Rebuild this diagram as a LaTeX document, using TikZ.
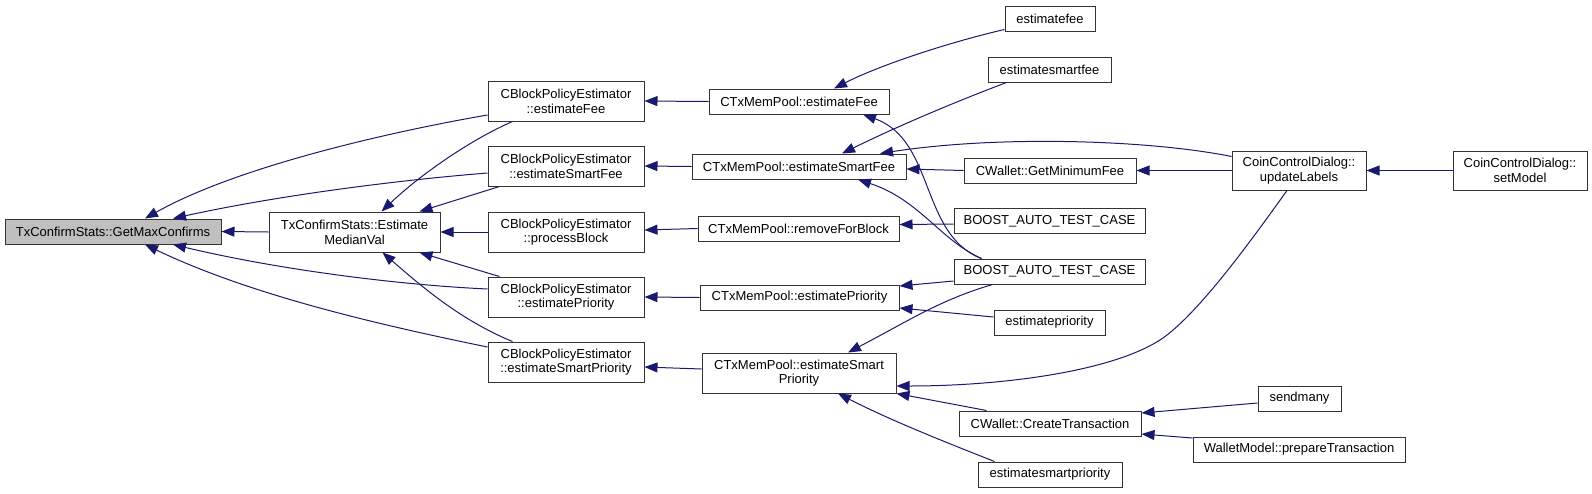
\documentclass[tikz,border=0pt]{standalone}
\usepackage{fontspec}
\setmainfont{Liberation Sans}
\usetikzlibrary{arrows.meta}
\definecolor{edgecol}{HTML}{191970}
\definecolor{boxgray}{HTML}{BFBFBF}
\begin{document}
\begin{tikzpicture}[x=1pt,y=-1pt,
  box/.style={draw=black!80, line width=1pt, fill=white, inner sep=0pt, align=center,
    font=\fontsize{13}{14.7}\selectfont, text=black},
  edge/.style={draw=edgecol, line width=1pt, -{Triangle[length=13pt,width=10pt]}}]
\useasboundingbox (0,0) rectangle (1592,493);
% nodes
\node[box, fill=boxgray, minimum width=216pt, minimum height=25pt] (gmc) at (113,231.5) {TxConfirmStats::GetMaxConfirms};
\node[box, minimum width=171pt, minimum height=40pt] (emv) at (354.5,232) {TxConfirmStats::Estimate\\MedianVal};
\node[box, minimum width=156pt, minimum height=40pt] (cef) at (566,101) {CBlockPolicyEstimator\\::estimateFee};
\node[box, minimum width=156pt, minimum height=40pt] (csf) at (566,166) {CBlockPolicyEstimator\\::estimateSmartFee};
\node[box, minimum width=156pt, minimum height=40pt] (cpb) at (566,232) {CBlockPolicyEstimator\\::processBlock};
\node[box, minimum width=156pt, minimum height=40pt] (cep) at (566,297) {CBlockPolicyEstimator\\::estimatePriority};
\node[box, minimum width=156pt, minimum height=40pt] (csp) at (566,362) {CBlockPolicyEstimator\\::estimateSmartPriority};
\node[box, minimum width=180pt, minimum height=25pt] (mef) at (799,101.5) {CTxMemPool::estimateFee};
\node[box, minimum width=214pt, minimum height=25pt] (msf) at (799,166.5) {CTxMemPool::estimateSmartFee};
\node[box, minimum width=201pt, minimum height=25pt] (mrb) at (798.5,228.5) {CTxMemPool::removeForBlock};
\node[box, minimum width=199pt, minimum height=25pt] (mep) at (799.5,297.5) {CTxMemPool::estimatePriority};
\node[box, minimum width=194pt, minimum height=40pt] (msp) at (799,373) {CTxMemPool::estimateSmart\\Priority};
\node[box, minimum width=90pt, minimum height=25pt] (efee) at (1050,18.5) {estimatefee};
\node[box, minimum width=123pt, minimum height=25pt] (esf) at (1049.5,69.5) {estimatesmartfee};
\node[box, minimum width=172pt, minimum height=25pt] (gmf) at (1050,170.5) {CWallet::GetMinimumFee};
\node[box, minimum width=191pt, minimum height=25pt] (bt1) at (1049.5,221) {BOOST\_AUTO\_TEST\_CASE};
\node[box, minimum width=191pt, minimum height=25pt] (bt2) at (1049.5,271.5) {BOOST\_AUTO\_TEST\_CASE};
\node[box, minimum width=111pt, minimum height=25pt] (epr) at (1049.5,322.5) {estimatepriority};
\node[box, minimum width=182pt, minimum height=25pt] (ctx) at (1050,423.5) {CWallet::CreateTransaction};
\node[box, minimum width=144pt, minimum height=25pt] (esp) at (1050,474.5) {estimatesmartpriority};
\node[box, minimum width=134pt, minimum height=39pt] (cul) at (1299,170.5) {CoinControlDialog::\\updateLabels};
\node[box, minimum width=134pt, minimum height=39pt] (csm) at (1520,170.5) {CoinControlDialog::\\setModel};
\node[box, minimum width=83pt, minimum height=25pt] (smy) at (1299.5,398.5) {sendmany};
\node[box, minimum width=212pt, minimum height=25pt] (wmp) at (1299,449.5) {WalletModel::prepareTransaction};
% edges into GetMaxConfirms
\draw[edge] (emv.west) -- (gmc.east);
\draw[edge] ([yshift=-14pt]cef.west) .. controls (400,130) and (240,165) .. ([xshift=32pt]gmc.north);
\draw[edge] ([yshift=-7pt]csf.west) .. controls (400,180) and (280,195) .. ([xshift=60pt]gmc.north);
\draw[edge] ([yshift=8pt]cep.west) .. controls (400,285) and (280,270) .. ([xshift=60pt]gmc.south);
\draw[edge] ([yshift=15pt]csp.west) .. controls (380,325) and (250,295) .. ([xshift=32pt]gmc.south);
% edges into EstimateMedianVal
\draw[edge] ([xshift=25pt]cef.south west) .. controls (470,140) and (420,175) .. ([xshift=27pt]emv.north);
\draw[edge] ([xshift=12pt]csf.south west) -- ([xshift=65pt]emv.north);
\draw[edge] (cpb.west) -- (emv.east);
\draw[edge] ([xshift=12pt]cep.north west) -- ([xshift=65pt]emv.south);
\draw[edge] ([xshift=25pt]csp.north west) .. controls (460,320) and (420,285) .. ([xshift=28pt]emv.south);
% CBlockPolicyEstimator callers
\draw[edge] (mef.west) -- (cef.east);
\draw[edge] (msf.west) -- (csf.east);
\draw[edge] (mrb.west) -- ([yshift=2pt]cpb.east);
\draw[edge] (mep.west) -- (cep.east);
\draw[edge] ([yshift=4pt]msp.west) -- ([yshift=-5pt]csp.east);
% CTxMemPool::estimateFee callers
\draw[edge] ([yshift=2pt]efee.south west) .. controls (950,42) and (880,65) .. ([xshift=35pt]mef.north);
\draw[edge] ([xshift=28pt]bt2.north west) .. controls (920,235) and (935,140) .. ([xshift=64pt]mef.south);
% CTxMemPool::estimateSmartFee callers
\draw[edge] ([xshift=28pt]bt2.north west) .. controls (940,240) and (920,200) .. ([xshift=59pt]msf.south);
\draw[edge] ([xshift=19pt]esf.south west) .. controls (960,100) and (900,125) .. ([xshift=43pt]msf.north);
\draw[edge] ([yshift=-6pt]cul.north west) .. controls (1150,140) and (1000,135) .. ([xshift=81pt]msf.north);
\draw[edge] (gmf.west) -- ([yshift=-2.5pt]msf.east);
\draw[edge] (cul.west) -- (gmf.east);
\draw[edge] (csm.west) -- (cul.east);
% removeForBlock
\draw[edge] ([yshift=-3pt]bt1.west) -- ([yshift=4pt]mrb.east);
% CTxMemPool::estimatePriority
\draw[edge] ([yshift=-9.5pt]bt2.west) -- ([yshift=11.5pt]mep.east);
\draw[edge] ([yshift=5.5pt]epr.west) -- ([yshift=-10.5pt]mep.east);
% CTxMemPool::estimateSmartPriority
\draw[edge] ([xshift=39pt]bt2.south west) .. controls (940,300) and (910,320) .. ([xshift=49pt]msp.north);
\draw[edge] ([xshift=-12pt]cul.south) .. controls (1262,225) and (1200,314) .. (1160,340)
  .. controls (1110,372) and (1000,386) .. ([yshift=-13pt]msp.east);
\draw[edge] ([xshift=28pt]ctx.north west) -- (msp.south east);
\draw[edge] ([xshift=17pt]esp.north west) .. controls (940,440) and (890,420) .. ([xshift=39pt]msp.south);
% CreateTransaction
\draw[edge] ([yshift=-4.5pt]smy.west) -- ([yshift=10.5pt]ctx.east);
\draw[edge] ([yshift=11.5pt]wmp.west) -- ([yshift=-10.5pt]ctx.east);
\end{tikzpicture}
\end{document}
